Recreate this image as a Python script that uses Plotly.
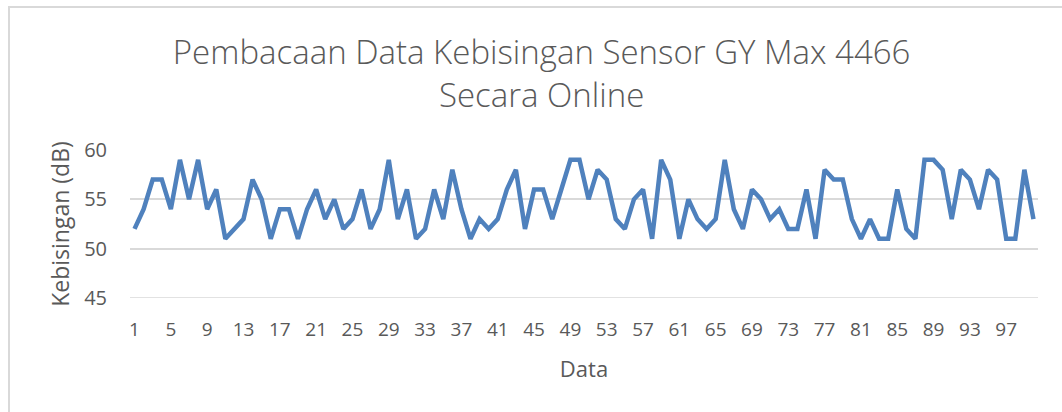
import plotly.graph_objects as go

data_index = list(range(1, 101))
kebisingan = [
    52, 54, 57, 57, 54, 59, 55, 59, 54, 56,
    51, 52, 53, 57, 55, 51, 54, 54, 51, 54,
    56, 53, 55, 52, 53, 56, 52, 54, 59, 53,
    56, 51, 52, 56, 53, 58, 54, 51, 53, 52,
    53, 56, 58, 52, 56, 56, 53, 56, 59, 59,
    55, 58, 57, 53, 52, 55, 56, 51, 59, 57,
    51, 55, 53, 52, 53, 59, 54, 52, 56, 55,
    53, 54, 52, 52, 56, 51, 58, 57, 57, 53,
    51, 53, 51, 51, 56, 52, 51, 59, 59, 58,
    53, 58, 57, 54, 58, 57, 51, 51, 58, 53,
]
x_tick_vals = list(range(1, 101, 4))
y_tick_vals = [45, 50, 55, 60]

title_text = "Pembacaan Data Kebisingan Sensor GY Max 4466<br>Secara Online"
x_title = "Data"
y_title = "Kebisingan (dB)"

text_color = "#595959"
font_family = "Open Sans"

W, H = 1062, 412
ML, MR, MT, MB = 130, 24, 150, 114
PW, PH = W - ML - MR, H - MT - MB

fig = go.Figure()
fig.add_trace(go.Scatter(
    x=data_index, y=kebisingan, mode="lines",
    line=dict(color="#4F81BD", width=4.5),
    showlegend=False, hoverinfo="x+y",
))

fig.update_layout(
    width=W, height=H,
    margin=dict(l=ML, r=MR, t=MT, b=MB),
    paper_bgcolor="white", plot_bgcolor="white",
    font=dict(family=font_family, color=text_color),
    title=dict(
        text=title_text,
        x=0.51, xref="container", xanchor="center",
        y=1 - 64 / H, yref="container", yanchor="middle",
        font=dict(family=font_family, size=33, color=text_color, weight=300),
    ),
    xaxis=dict(
        range=[0.5, 100.5],
        tickmode="array", tickvals=x_tick_vals,
        ticktext=[str(v) for v in x_tick_vals],
        showgrid=False, zeroline=False,
        showline=False, ticks="",
        ticklabelstandoff=18,
        tickfont=dict(size=19, color=text_color),
        title=dict(text=x_title, font=dict(size=22, color=text_color), standoff=20),
    ),
    yaxis=dict(
        range=[45, 60],
        tickmode="array", tickvals=y_tick_vals,
        showgrid=True, gridcolor="#D9D9D9", gridwidth=1.5,
        zeroline=False, showline=False, ticks="",
        ticklabelstandoff=22,
        tickfont=dict(size=20, color=text_color),
        title=dict(text=y_title, font=dict(size=23, color=text_color), standoff=8),
    ),
    shapes=[dict(
        type="rect", xref="paper", yref="paper",
        x0=(9 - ML) / PW, x1=(W + 10 - ML) / PW,
        y0=(H - MB - (H + 10)) / PH, y1=(H - MB - 7) / PH,
        line=dict(color="#D9D9D9", width=2), layer="below",
    )],
)

fig.add_hline(y=45, line=dict(color="#D9D9D9", width=1.5), layer="below")

fig.write_html(
    "out.html",
    config={"displayModeBar": False},
    post_script="document.body.style.margin='0';document.body.style.overflow='hidden';",
)
